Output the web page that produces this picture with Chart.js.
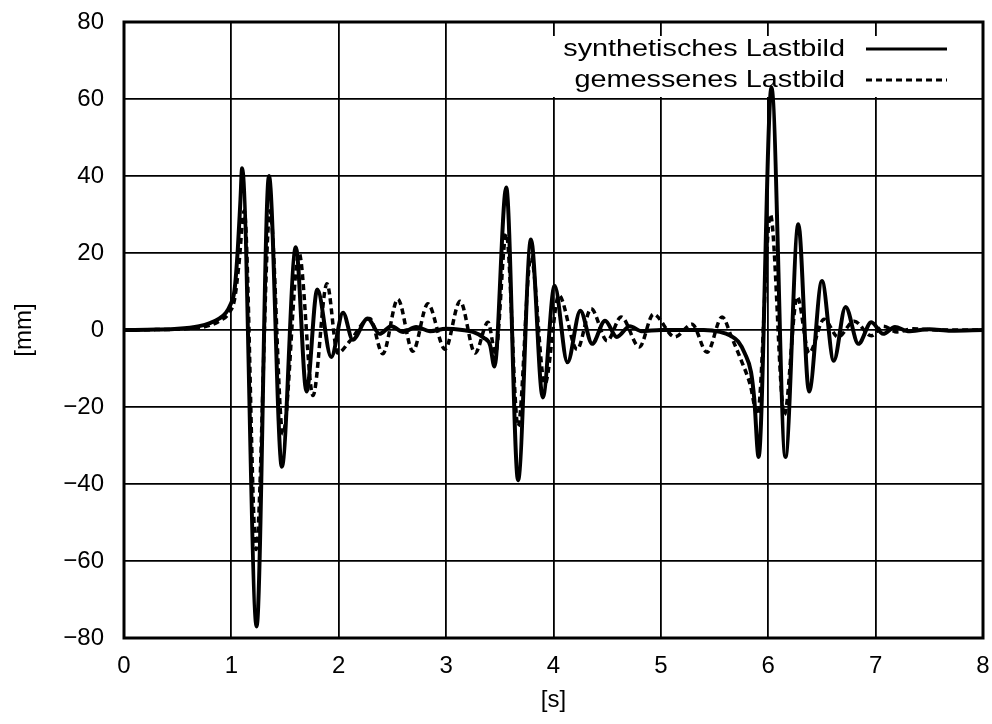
<!DOCTYPE html>
<html>
<head>
<meta charset="utf-8">
<script src="https://cdn.jsdelivr.net/npm/chart.js@4.4.1/dist/chart.umd.min.js"></script>
<style>
  html, body { margin: 0; padding: 0; background: #fff; }
  #wrap { width: 992px; height: 724px; }
</style>
</head>
<body>
<div id="wrap"><canvas id="myChart" width="992" height="724"></canvas></div>
<script>
// synthetisches Lastbild (solid)
const synthT = [0, 0.3, 0.5, 0.7, 0.8, 0.89, 0.95, 0.99, 1.03, 1.06, 1.085, 1.10, 1.235, 1.35, 1.47, 1.60, 1.70, 1.80, 1.93, 2.04, 2.13, 2.27, 2.38, 2.49, 2.6, 2.72, 2.85, 3.0, 3.15, 3.25, 3.35, 3.41, 3.45, 3.56, 3.67, 3.79, 3.90, 4.01, 4.13, 4.25, 4.36, 4.48, 4.59, 4.71, 4.82, 5.0, 5.2, 5.4, 5.55, 5.65, 5.72, 5.78, 5.84, 5.87, 5.91, 6.03, 6.16, 6.28, 6.38, 6.50, 6.61, 6.72, 6.84, 6.96, 7.07, 7.18, 7.3, 7.5, 7.7, 8.0]
const synthY = [0, 0.1, 0.3, 1, 1.8, 3, 4.5, 6.5, 10.5, 21, 34, 42, -77, 40, -35.5, 21.5, -16, 10.5, -7, 4.5, -2.5, 3, -1, 1, -0.5, 0.8, -0.3, 0.3, 0, -0.5, -2, -4, -9.5, 37, -39, 23.5, -17.5, 11.5, -8.4, 5, -3.6, 2.4, -1.8, 1, -0.3, 0, 0, 0, -0.5, -1.5, -3, -6, -11, -18, -33, 63, -33, 27.5, -16, 12.7, -8, 6, -3.6, 2, -1, 0.8, -0.3, 0.2, -0.2, 0]

// gemessenes Lastbild (dashed)
const measT = [0, 0.3, 0.5, 0.7, 0.8, 0.9, 0.98, 1.03, 1.07, 1.12, 1.23, 1.36, 1.48, 1.63, 1.76, 1.89, 1.99, 2.1, 2.29, 2.41, 2.55, 2.69, 2.83, 2.99, 3.13, 3.27, 3.39, 3.46, 3.56, 3.67, 3.79, 3.92, 4.05, 4.22, 4.35, 4.50, 4.63, 4.80, 4.93, 5.13, 5.29, 5.43, 5.57, 5.66, 5.75, 5.83, 5.9, 6.02, 6.15, 6.27, 6.38, 6.52, 6.65, 6.8, 6.96, 7.07, 7.2, 7.35, 7.6, 8.0]
const measY = [0, 0.1, 0.2, 0.6, 1.2, 2.5, 4.5, 8, 17, 31, -57, 31, -27, 20, -17, 12, -6, -3, 3, -6.2, 8, -5.5, 6.8, -5, 7.5, -6, 2, -6, 25, -25, 19, -14, 9, -5, 5.5, -2.8, 3.4, -4.4, 4.1, -1.8, 1.5, -5.8, 3.4, -2, -8, -14, -22, 30, -22, 8.6, -6, 2.8, -1.8, 2.3, -1.5, 1, -0.5, 0.3, 0, 0]

const seriesNames = ['synthetisches Lastbild', 'gemessenes Lastbild']
const xTicks = [0, 1, 2, 3, 4, 5, 6, 7, 8]
const yTicks = [-80, -60, -40, -20, 0, 20, 40, 60, 80]

const fontFamily = '"Liberation Sans", Arial, Helvetica, sans-serif'
const fontSize = 24

const toPoints = (ts, ys) => ts.map((t, i) => ({ x: t, y: ys[i] }))

// gnuplot style key in the top right corner, drawn under the curves
const keyBox = {
  id: 'keyBox',
  beforeDatasetsDraw(chart) {
    const ctx = chart.ctx
    ctx.save()
    ctx.fillStyle = '#fff'
    ctx.fillRect(546, 36, 432, 61)
    ctx.font = `${fontSize}px ${fontFamily}`
    ctx.fillStyle = '#000'
    ctx.textAlign = 'right'
    ctx.textBaseline = 'middle'
    const rows = [49, 80]
    seriesNames.forEach((name, i) => {
      // key text is a bit wider in the original
      ctx.save()
      ctx.translate(845, rows[i])
      ctx.scale(1.2, 1)
      ctx.fillText(name, 0, 0)
      ctx.restore()
      ctx.beginPath()
      ctx.lineWidth = 3
      ctx.strokeStyle = '#000'
      ctx.setLineDash(i === 0 ? [] : [6, 4])
      ctx.moveTo(866, rows[i])
      ctx.lineTo(947, rows[i])
      ctx.stroke()
    })
    ctx.restore()
  },
  afterDraw(chart) {
    const a = chart.chartArea
    const ctx = chart.ctx
    ctx.save()
    ctx.strokeStyle = '#000'
    ctx.lineWidth = 3
    ctx.strokeRect(a.left, a.top, a.right - a.left, a.bottom - a.top)
    ctx.restore()
  }
}

const ctx = document.getElementById('myChart')
new Chart(ctx, {
  type: 'line',
  data: {
    datasets: [{
      label: seriesNames[0],
      data: toPoints(synthT, synthY),
      borderColor: '#000',
      borderWidth: 4,
      pointRadius: 0,
      cubicInterpolationMode: 'monotone',
      fill: false
    }, {
      label: seriesNames[1],
      data: toPoints(measT, measY),
      borderColor: '#000',
      borderWidth: 3.5,
      borderDash: [6, 4],
      pointRadius: 0,
      cubicInterpolationMode: 'monotone',
      fill: false
    }]
  },
  options: {
    responsive: false,
    animation: false,
    layout: { padding: { top: 22, right: 9, left: 0, bottom: 0 } },
    plugins: { legend: { display: false }, tooltip: { enabled: false } },
    scales: {
      x: {
        type: 'linear',
        min: 0,
        max: 8,
        afterBuildTicks: axis => { axis.ticks = xTicks.map(v => ({ value: v })) },
        afterFit: axis => {
          axis.height = 86
          axis.paddingLeft = 0
          axis.paddingRight = 0
        },
        grid: { color: '#000', lineWidth: 1.8, drawTicks: false },
        border: { display: false },
        ticks: {
          color: '#000',
          padding: 14,
          font: { family: fontFamily, size: fontSize }
        },
        title: {
          display: true,
          text: '[s]',
          color: '#000',
          padding: { top: 0, bottom: 9 },
          font: { family: fontFamily, size: fontSize }
        }
      },
      y: {
        min: -80,
        max: 80,
        afterBuildTicks: axis => { axis.ticks = yTicks.map(v => ({ value: v })) },
        afterFit: axis => {
          axis.width = 124
          axis.paddingTop = 0
          axis.paddingBottom = 0
        },
        grid: { color: '#000', lineWidth: 1.8, drawTicks: false },
        border: { display: false },
        ticks: {
          color: '#000',
          padding: 20,
          font: { family: fontFamily, size: fontSize },
          callback: v => String(v).replace('-', '\u2212')
        },
        title: {
          display: true,
          text: '[mm]',
          color: '#000',
          padding: { top: 10, bottom: 0 },
          font: { family: fontFamily, size: fontSize }
        }
      }
    }
  },
  plugins: [keyBox]
})
</script>
</body>
</html>
